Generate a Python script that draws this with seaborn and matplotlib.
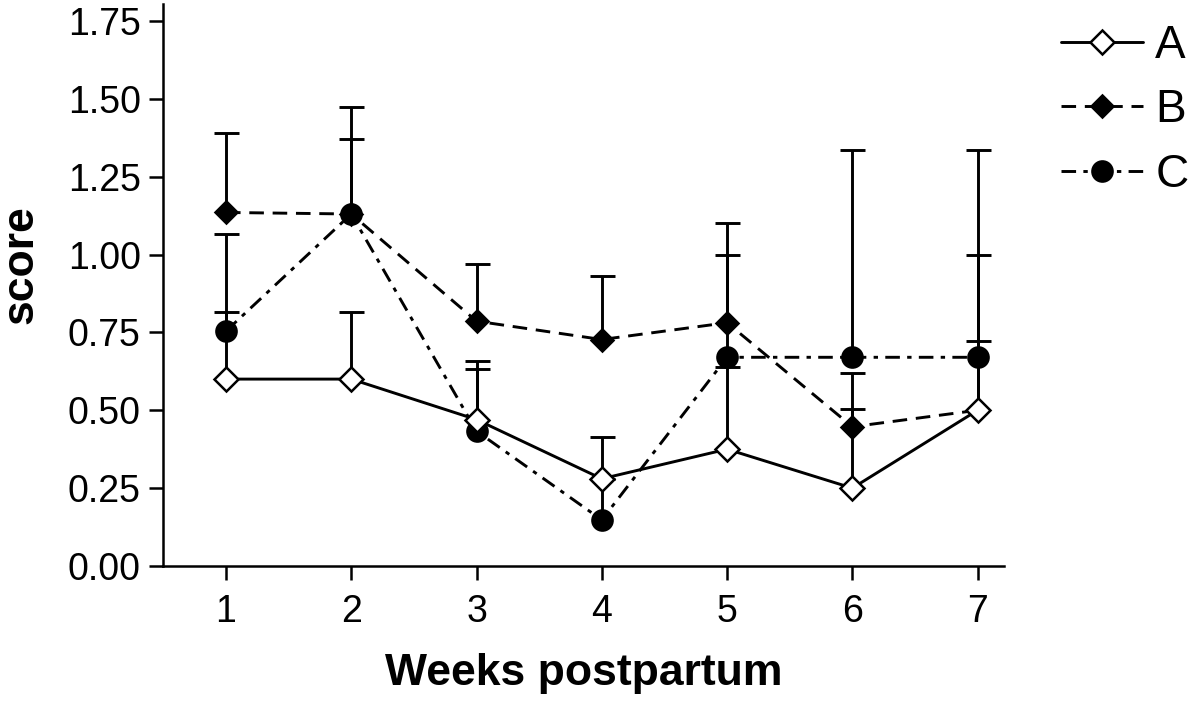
import matplotlib
matplotlib.use("Agg")
import matplotlib.pyplot as plt
import pandas as pd
import seaborn as sns

# values
weeks = [1, 2, 3, 4, 5, 6, 7]
score_a = [0.60, 0.60, 0.47, 0.28, 0.375, 0.25, 0.50]
score_b = [1.135, 1.13, 0.786, 0.727, 0.781, 0.447, 0.50]
score_c = [0.754, 1.13, 0.433, 0.148, 0.670, 0.670, 0.670]
# upper error bars only
err_a = [0.214, 0.214, 0.188, 0.135, 0.265, 0.37, 0.223]
err_b = [0.255, 0.24, 0.185, 0.204, 0.319, 0.056, 0.50]
err_c = [0.311, 0.344, 0.198, 0.13, 0.33, 0.664, 0.664]
groups = ["A", "B", "C"]
y_ticks = [0.00, 0.25, 0.50, 0.75, 1.00, 1.25, 1.50, 1.75]

sns.set_style("ticks")
plt.rcParams["font.family"] = ["Liberation Sans", "DejaVu Sans"]
plt.rcParams["text.color"] = "black"
plt.rcParams["axes.labelcolor"] = "black"
plt.rcParams["xtick.color"] = "black"
plt.rcParams["ytick.color"] = "black"

fig = plt.figure(figsize=(12, 7.14), dpi=100)
ax = fig.add_axes([0.1358, 0.2073, 0.7008, 0.787])

df = pd.DataFrame({"week": weeks * 3,
                   "score": score_a + score_b + score_c,
                   "err": err_a + err_b + err_c,
                   "group": [g for g in groups for _ in weeks]})

# line styles per group
styles = {
    "A": dict(marker="D", markersize=11.8, markerfacecolor="white", dashes=(None, None), z=6),
    "B": dict(marker="D", markersize=11.0, markerfacecolor="black", dashes=(5, 3), z=4),
    "C": dict(marker="o", markersize=14.5, markerfacecolor="black", dashes=(5, 2.5, 1.5, 2.5), z=5),
}

for g in groups:
    sub = df[df.group == g]
    st = styles[g]
    # error bars first, under the markers
    eb = ax.errorbar(sub.week, sub.score, yerr=[[0] * len(sub), sub.err.tolist()],
                     fmt="none", ecolor="black", elinewidth=2.1, capsize=9, capthick=2.1,
                     zorder=2)
    for cl in eb[1]:
        if list(cl.get_ydata()) == sub.score.tolist():
            cl.set_visible(False)
    sns.lineplot(data=sub, x="week", y="score", ax=ax, color="black", linewidth=2.1,
                 marker=st["marker"], markersize=st["markersize"],
                 markerfacecolor=st["markerfacecolor"], markeredgecolor="black",
                 markeredgewidth=1.8, dashes=st["dashes"], label=g, zorder=st["z"])

ax.set_xlim(0.497, 7.21)
ax.set_ylim(0, 1.804)
ax.set_xticks(weeks)
ax.set_yticks(y_ticks)
ax.set_yticklabels([f"{v:.2f}" for v in y_ticks])
ax.tick_params(axis="both", direction="out", length=10, width=1.8, labelsize=27,
               color="black", labelcolor="black")
ax.tick_params(axis="y", pad=6)
ax.tick_params(axis="x", pad=10)
sns.despine(ax=ax)
for s in ["left", "bottom"]:
    ax.spines[s].set_linewidth(1.8)
    ax.spines[s].set_color("black")

ax.set_xlabel("Weeks postpartum", fontsize=32, fontweight="bold", labelpad=17, color="black")
ax.set_ylabel("score", fontsize=32, fontweight="bold", color="black")
ax.yaxis.set_label_coords(-0.145, 0.536)

leg = ax.legend(loc="upper left", bbox_to_anchor=(0.884, 0.967), bbox_transform=fig.transFigure,
                frameon=False, fontsize=33, handlelength=1.8, handletextpad=0.26,
                labelspacing=0.45, borderpad=0, borderaxespad=0)
for t in leg.get_texts():
    t.set_color("black")

fig.savefig("out.png", dpi=100)
